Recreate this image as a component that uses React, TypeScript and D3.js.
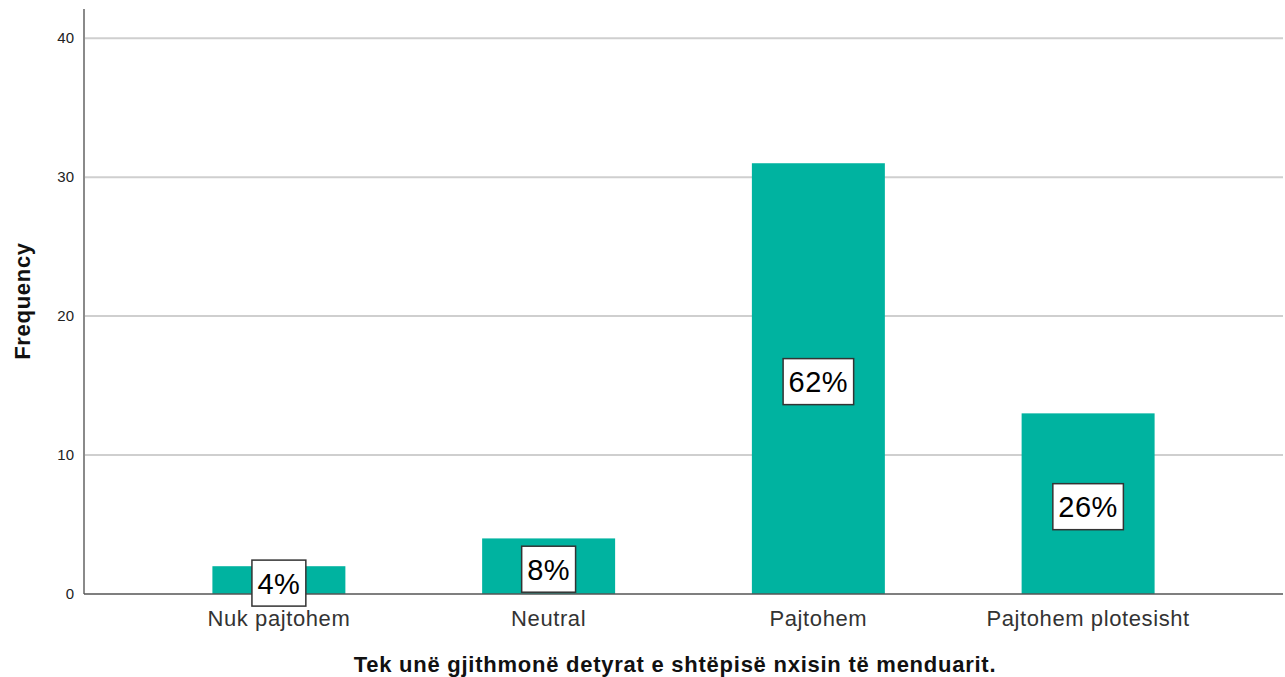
import React from "react";
import * as d3 from "d3";

const categories = ["Nuk pajtohem", "Neutral", "Pajtohem", "Pajtohem plotesisht"];
const frequencies = [2, 4, 31, 13];
const percentLabels = ["4%", "8%", "62%", "26%"];
const yTicks = [0, 10, 20, 30, 40];
const xTitle = "Tek unë gjithmonë detyrat e shtëpisë nxisin të menduarit.";
const yTitle = "Frequency";

const W = 1285;
const H = 677;
const FONT = "'Liberation Sans', Arial, sans-serif";

export default function App() {
  const left = 84;
  const right = 1283;
  const top = 9;
  const bottom = 594;

  const x = d3
    .scaleBand<string>()
    .domain(categories)
    .range([left, right])
    .paddingInner(0.507)
    .paddingOuter(0.476);

  const y = d3.scaleLinear().domain([0, 42.1]).range([bottom, top]);

  const pctFont = 29;
  const charW = (s: string) =>
    s.split("").reduce((a, c) => a + (c === "%" ? 0.889 : 0.556), 0) * pctFont + s.length * 0.5;

  return (
    <svg
      width={W}
      height={H}
      style={{ position: "absolute", left: 0, top: 0, background: "#fff" }}
    >
      {yTicks.filter((t) => t > 0).map((t) => (
        <line
          key={"g" + t}
          x1={left}
          x2={right}
          y1={y(t)}
          y2={y(t)}
          stroke="#cfcfcf"
          strokeWidth={2}
        />
      ))}
      {yTicks.map((t) => (
        <text
          key={"t" + t}
          x={74}
          y={y(t)}
          dy="0.35em"
          textAnchor="end"
          fontFamily={FONT}
          fontSize={15}
          fill="#222"
        >
          {t}
        </text>
      ))}
      {categories.map((c, i) => (
        <rect
          key={"b" + c}
          x={x(c)}
          y={y(frequencies[i])}
          width={x.bandwidth()}
          height={y(0) - y(frequencies[i])}
          fill="#00b3a0"
        />
      ))}
      <line x1={left} x2={left} y1={top} y2={bottom} stroke="#8a8a8a" strokeWidth={2} />
      <line x1={left} x2={right} y1={bottom} y2={bottom} stroke="#555" strokeWidth={1.5} />
      {categories.map((c, i) => {
        const cx = (x(c) as number) + x.bandwidth() / 2;
        const cy = y(frequencies[i] / 2) + 3;
        const tw = charW(percentLabels[i]);
        const bw = tw + 11;
        const bh = 46;
        return (
          <g key={"p" + c}>
            <rect
              x={cx - bw / 2}
              y={cy - bh / 2}
              width={bw}
              height={bh}
              fill="#fff"
              stroke="#333"
              strokeWidth={1.5}
            />
            <text
              x={cx}
              y={cy}
              dy="0.36em"
              textAnchor="middle"
              fontFamily={FONT}
              fontSize={pctFont}
              letterSpacing={0.5}
              fill="#000"
            >
              {percentLabels[i]}
            </text>
          </g>
        );
      })}
      {categories.map((c) => (
        <text
          key={"c" + c}
          x={(x(c) as number) + x.bandwidth() / 2}
          y={626}
          textAnchor="middle"
          fontFamily={FONT}
          fontSize={22}
          letterSpacing={0.6}
          fill="#333"
        >
          {c}
        </text>
      ))}
      <text
        x={675}
        y={672}
        textAnchor="middle"
        fontFamily={FONT}
        fontSize={22}
        fontWeight="bold"
        letterSpacing={0.75}
        fill="#111"
      >
        {xTitle}
      </text>
      <text
        transform={`translate(30,301) rotate(-90)`}
        textAnchor="middle"
        fontFamily={FONT}
        fontSize={22}
        fontWeight="bold"
        letterSpacing={0.7}
        fill="#111"
      >
        {yTitle}
      </text>
    </svg>
  );
}
